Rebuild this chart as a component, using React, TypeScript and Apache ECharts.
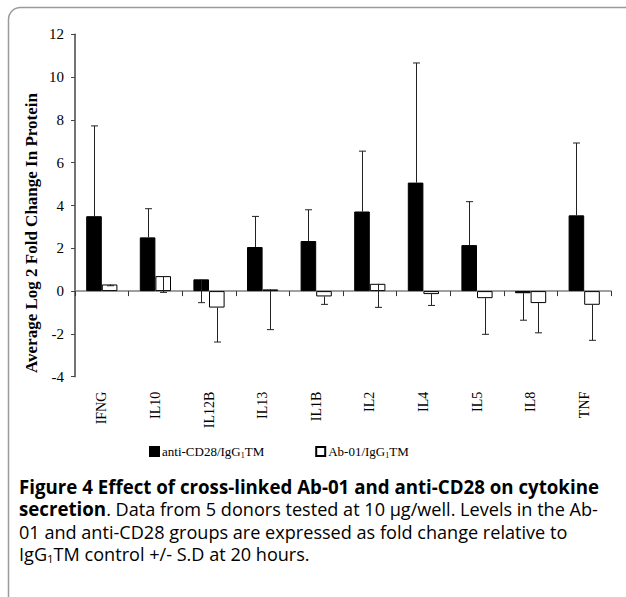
import React, { useEffect, useRef } from "react";
import * as echarts from "echarts";

const categories = ["IFNG", "IL10", "IL12B", "IL13", "IL1B", "IL2", "IL4", "IL5", "IL8", "TNF"];
const antiCD28 = [3.5, 2.51, 0.55, 2.06, 2.34, 3.72, 5.07, 2.15, -0.1, 3.54];
const antiCD28ErrEnd = [7.72, 3.85, -0.54, 3.49, 3.8, 6.54, 10.66, 4.18, -1.36, 6.92];
const ab01 = [0.31, 0.7, -0.77, 0.08, -0.25, 0.34, -0.14, -0.33, -0.56, -0.64];
const ab01ErrEnd = [0.25, -0.06, -2.38, -1.8, -0.62, -0.76, -0.67, -2.02, -1.95, -2.3];
const yTicks = { min: -4, max: 12, interval: 2 };
const seriesNames = ["anti-CD28/IgG1TM", "Ab-01/IgG1TM"];
const yAxisTitle = "Average Log 2 Fold Change In Protein";
const captionLines = [
  "{b|Figure 4 Effect of cross-linked Ab-01 and anti-CD28 on cytokine}",
  "{b|secretion}{n|. Data from 5 donors tested at 10 \u00b5g/well. Levels in the Ab-}",
  "{n|01 and anti-CD28 groups are expressed as fold change relative to}",
  "{n|IgG}{s|1}{n|TM control +/- S.D at 20 hours.}",
];

const SERIF = "'Liberation Serif', 'Times New Roman', serif";
const SANS = "'Open Sans', 'Noto Sans', sans-serif";
const BAR_W = 15.6;

function errorSeries(name: string, values: number[], ends: number[], offset: number) {
  return {
    type: "custom",
    name: name + "-err",
    xAxisIndex: 0,
    yAxisIndex: 0,
    z: 10,
    silent: true,
    encode: { x: 0, y: [1, 2] },
    data: values.map((v, i) => [i, v, ends[i]]),
    renderItem: (params: any, api: any) => {
      const i = api.value(0);
      const p0 = api.coord([i, api.value(1)]);
      const p1 = api.coord([i, api.value(2)]);
      const x = Math.round(p0[0] + offset) + 0.5;
      const style = { stroke: "#222", lineWidth: 1 };
      return {
        type: "group",
        children: [
          { type: "line", shape: { x1: x, y1: p0[1], x2: x, y2: p1[1] }, style },
          { type: "line", shape: { x1: x - 3.5, y1: p1[1], x2: x + 3.5, y2: p1[1] }, style },
        ],
      };
    },
  };
}

export default function App() {
  const ref = useRef<HTMLDivElement>(null);
  useEffect(() => {
    if (!ref.current) return;
    const chart = echarts.init(ref.current, null, { renderer: "svg" });
    const rich = {
      a: { fontFamily: SERIF, fontSize: 13, color: "#000", lineHeight: 16 },
      s: { fontFamily: SERIF, fontSize: 8, color: "#000", verticalAlign: "bottom", lineHeight: 12 },
    };
    const capRich = {
      b: { fontFamily: SANS, fontWeight: "bold", fontSize: 18.7, color: "#111" },
      n: { fontFamily: SANS, fontSize: 18.1, color: "#222" },
      s: { fontFamily: SANS, fontSize: 11.5, color: "#222", padding: [8, 0, 0, 0] },
    };
    chart.setOption({
      animation: false,
      backgroundColor: "#fff",
      grid: { left: 75, right: 15, top: 34.3, bottom: 220.3 },
      legend: {
        left: 144,
        top: 440,
        itemWidth: 9,
        itemHeight: 9,
        itemGap: 51,
        icon: "rect",
        data: seriesNames,
        formatter: (name: string) => {
          const [pre, post] = name.split("IgG1");
          return `{a|${pre}IgG}{s|1}{a|${post}}`;
        },
        textStyle: { rich, padding: [0, 0, 0, -2] },
      },
      xAxis: [
        {
          type: "category",
          data: categories,
          position: "bottom",
          axisLine: { show: false, onZero: false },
          axisTick: { show: false },
          axisLabel: { rotate: 90, margin: 15, fontFamily: SERIF, fontSize: 14, color: "#000" },
        },
        {
          type: "category",
          data: categories,
          position: "top",
          axisLine: { show: true, onZero: true, lineStyle: { color: "#808080", width: 1.5 } },
          axisTick: { show: true, inside: true, length: 5, lineStyle: { color: "#333" } },
          axisLabel: { show: false },
        },
      ],
      yAxis: {
        type: "value",
        min: yTicks.min,
        max: yTicks.max,
        interval: yTicks.interval,
        splitLine: { show: false },
        axisLine: { show: true, onZero: false, lineStyle: { color: "#444", width: 1.5 } },
        axisTick: { show: true, length: 4, lineStyle: { color: "#444" } },
        axisLabel: { margin: 11, fontFamily: SERIF, fontSize: 15, color: "#000" },
      },
      series: [
        {
          type: "bar",
          name: seriesNames[0],
          data: antiCD28,
          barWidth: BAR_W,
          barGap: "0%",
          itemStyle: { color: "#000", borderColor: "#000", borderWidth: 1 },
        },
        {
          type: "bar",
          name: seriesNames[1],
          data: ab01,
          barWidth: BAR_W,
          barGap: "0%",
          itemStyle: { color: "#fff", borderColor: "#000", borderWidth: 1 },
        },
        errorSeries(seriesNames[0], antiCD28, antiCD28ErrEnd, -BAR_W / 2),
        errorSeries(seriesNames[1], ab01, ab01ErrEnd, BAR_W / 2),
      ],
      graphic: [
        {
          type: "rect",
          shape: { x: 8.5, y: 7.5, width: 660, height: 620, r: 12 },
          style: { fill: "none", stroke: "#9a9a9a", lineWidth: 1.5 },
          silent: true,
        },
        {
          type: "text",
          x: 31,
          y: 233,
          rotation: Math.PI / 2,
          style: {
            text: yAxisTitle,
            font: `bold 17px ${SERIF}`,
            fill: "#000",
            align: "center",
            verticalAlign: "middle",
          },
        },
        ...captionLines.map((line, k) => ({
          type: "text",
          x: 19,
          y: 486 + k * 22.8,
          style: { text: line, rich: capRich, align: "left", verticalAlign: "middle" },
        })),
      ],
    });
    return () => chart.dispose();
  }, []);
  return <div ref={ref} style={{ position: "absolute", left: 0, top: 0, width: 626, height: 597 }} />;
}
